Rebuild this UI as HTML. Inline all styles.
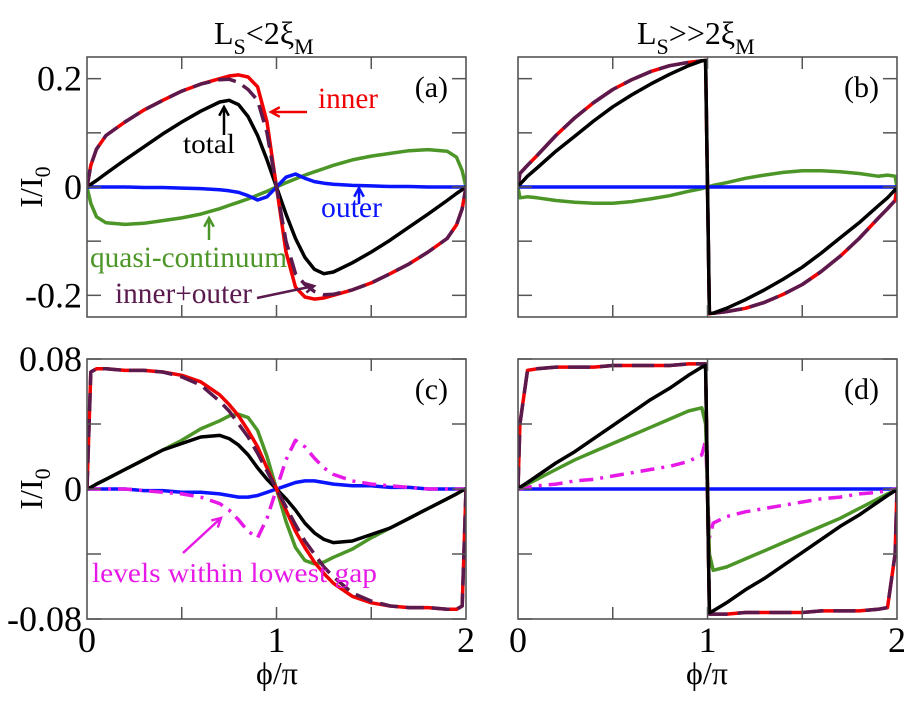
<!DOCTYPE html>
<html><head><meta charset="utf-8"><style>
html,body{margin:0;padding:0;background:#fff;}
svg, svg text, svg tspan{font-family:"Liberation Serif","Times New Roman",Times,serif !important;}
</style></head><body>
<svg id="fig" width="908" height="696" viewBox="0 0 908 696" xmlns="http://www.w3.org/2000/svg">
<g id="root"></g>
<text x="214" y="44" font-size="32">L<tspan font-size="22" dy="10">S</tspan><tspan dy="-10">&lt;2ξ</tspan><tspan font-size="22" dy="10">M</tspan></text>
<text x="637" y="44" font-size="32">L<tspan font-size="22" dy="10">S</tspan><tspan dy="-10">&gt;&gt;2ξ</tspan><tspan font-size="22" dy="10">M</tspan></text>
<text transform="translate(42,187) rotate(-90)" text-anchor="middle" font-size="32">I/I<tspan font-size="22" dy="8">0</tspan></text>
<text transform="translate(42,489) rotate(-90)" text-anchor="middle" font-size="32">I/I<tspan font-size="22" dy="8">0</tspan></text>
<text x="277" y="684" text-anchor="middle" font-size="32">ϕ/π</text>
<text x="707" y="684" text-anchor="middle" font-size="32">ϕ/π</text>
</svg>
<script>
const aX=[0,0.02,0.05,0.1,0.2,0.3,0.4,0.5,0.6,0.7,0.75,0.8,0.85,0.9,0.95,1,1.05,1.1,1.15,1.2,1.25,1.3,1.4,1.5,1.6,1.7,1.8,1.9,1.95,1.98,2];
const aInner=[0,0.04,0.07,0.095,0.12,0.142,0.16,0.177,0.19,0.2,0.205,0.207,0.203,0.185,0.12,0,-0.12,-0.185,-0.203,-0.207,-0.205,-0.2,-0.19,-0.177,-0.16,-0.142,-0.12,-0.095,-0.07,-0.04,0];
const aInnerOuter=[0,0.04,0.07,0.095,0.12,0.142,0.16,0.177,0.19,0.198,0.199,0.193,0.18,0.16,0.1,0,-0.1,-0.16,-0.18,-0.193,-0.199,-0.198,-0.19,-0.177,-0.16,-0.142,-0.12,-0.095,-0.07,-0.04,0];
const aTotal=[0,0.005,0.012,0.025,0.05,0.074,0.098,0.12,0.14,0.157,0.16,0.152,0.13,0.095,0.05,0,-0.05,-0.095,-0.13,-0.152,-0.16,-0.157,-0.14,-0.12,-0.098,-0.074,-0.05,-0.025,-0.012,-0.005,0];
const aQuasi=[0,-0.03,-0.055,-0.066,-0.069,-0.067,-0.062,-0.057,-0.05,-0.04,-0.034,-0.028,-0.022,-0.015,-0.008,0,0.008,0.015,0.022,0.028,0.034,0.04,0.05,0.057,0.062,0.067,0.069,0.066,0.055,0.03,0];
const aOuter=[0,0,0,0,0,-0.001,-0.001,-0.002,-0.003,-0.005,-0.007,-0.01,-0.016,-0.024,-0.018,0,0.018,0.024,0.016,0.01,0.007,0.005,0.003,0.002,0.001,0.001,0,0,0,0,0];

const bX=[0,0.01,0.05,0.1,0.2,0.3,0.4,0.5,0.6,0.7,0.8,0.9,0.97,0.99,1.01,1.03,1.1,1.2,1.3,1.4,1.5,1.6,1.7,1.8,1.9,1.95,1.99,2];
const bInner=[0,0.025,0.04,0.058,0.095,0.128,0.156,0.18,0.198,0.213,0.224,0.23,0.233,0.234,-0.234,-0.233,-0.23,-0.224,-0.213,-0.198,-0.18,-0.156,-0.128,-0.095,-0.058,-0.04,-0.025,0];
const bTotal=[0,0.005,0.02,0.035,0.066,0.094,0.122,0.148,0.17,0.19,0.208,0.224,0.233,0.233,-0.233,-0.233,-0.224,-0.208,-0.19,-0.17,-0.148,-0.122,-0.094,-0.066,-0.035,-0.02,-0.005,0];
const bQuasi=[0,-0.02,-0.018,-0.02,-0.025,-0.028,-0.03,-0.03,-0.027,-0.022,-0.016,-0.008,-0.003,-0.001,0.001,0.003,0.008,0.016,0.022,0.027,0.03,0.03,0.028,0.025,0.02,0.022,0.02,0];
const bOuter=[0,0,0,0,0,0,0,0,0,0,0,0,0,0,0,0,0,0,0,0,0,0,0,0,0,0,0,0];

const cX=aX;
const cInner=[0,0.072,0.074,0.074,0.073,0.073,0.072,0.07,0.066,0.058,0.052,0.045,0.036,0.026,0.013,0,-0.013,-0.026,-0.036,-0.045,-0.052,-0.058,-0.066,-0.07,-0.072,-0.073,-0.073,-0.074,-0.074,-0.072,0];
const cInnerOuter=[0,0.072,0.074,0.074,0.073,0.073,0.072,0.069,0.064,0.054,0.048,0.04,0.032,0.022,0.011,0,-0.011,-0.022,-0.032,-0.04,-0.048,-0.054,-0.064,-0.069,-0.072,-0.073,-0.073,-0.074,-0.074,-0.072,0];
const cTotal=[0,0.001,0.003,0.006,0.012,0.018,0.024,0.028,0.032,0.033,0.031,0.027,0.021,0.013,0.006,0,-0.006,-0.013,-0.021,-0.027,-0.031,-0.033,-0.032,-0.028,-0.024,-0.018,-0.012,-0.006,-0.003,-0.001,0];
const cQuasi=[0,0.001,0.003,0.006,0.012,0.018,0.024,0.03,0.037,0.042,0.045,0.046,0.044,0.036,0.02,0,-0.02,-0.036,-0.044,-0.046,-0.045,-0.042,-0.037,-0.03,-0.024,-0.018,-0.012,-0.006,-0.003,-0.001,0];
const cOuter=[0,0,0,0,0,-0.001,-0.001,-0.002,-0.002,-0.003,-0.004,-0.005,-0.005,-0.004,-0.002,0,0.002,0.004,0.005,0.005,0.004,0.003,0.002,0.002,0.001,0.001,0,0,0,0,0];
const cGap=[0,0,0,0,0,-0.001,-0.002,-0.003,-0.005,-0.009,-0.013,-0.019,-0.026,-0.03,-0.018,0,0.018,0.03,0.026,0.019,0.013,0.009,0.005,0.003,0.002,0.001,0,0,0,0,0];

const dX=bX;
const dInner=[0,0.04,0.073,0.074,0.075,0.075,0.075,0.076,0.076,0.076,0.076,0.077,0.077,0.077,-0.077,-0.077,-0.077,-0.076,-0.076,-0.076,-0.076,-0.075,-0.075,-0.075,-0.074,-0.073,-0.04,0];
const dTotal=[0,0.001,0.004,0.008,0.016,0.023,0.031,0.039,0.047,0.055,0.062,0.07,0.075,0.076,-0.076,-0.075,-0.07,-0.062,-0.055,-0.047,-0.039,-0.031,-0.023,-0.016,-0.008,-0.004,-0.001,0];
const dQuasi=[0,0.001,0.003,0.006,0.012,0.018,0.023,0.028,0.033,0.038,0.043,0.048,0.05,0.04,-0.04,-0.05,-0.048,-0.043,-0.038,-0.033,-0.028,-0.023,-0.018,-0.012,-0.006,-0.003,-0.001,0];
const dGap=[0,0,0.001,0.002,0.003,0.005,0.006,0.008,0.01,0.012,0.014,0.017,0.021,0.03,-0.03,-0.021,-0.017,-0.014,-0.012,-0.01,-0.008,-0.006,-0.005,-0.003,-0.002,-0.001,0,0];
const dOuter=bOuter;

const xTicks=[0,0.5,1,1.5,2];
const xTickLabels=["0","1","2"];
const abTicks=[-0.2,-0.1,0,0.1,0.2];
const abLabels=["0.2","0","-0.2"];
const cdTicks=[-0.08,-0.04,0,0.04,0.08];
const cdLabels=["0.08","0","-0.08"];

const NS="http://www.w3.org/2000/svg";
const root=document.getElementById('root');
function mk(tag,attrs,parent){const e=document.createElementNS(NS,tag);for(const k in attrs)e.setAttribute(k,attrs[k]);(parent||root).appendChild(e);return e;}
const COL={red:"#f00000",purple:"#5a1a4e",black:"#000",green:"#4c9628",blue:"#0a14ff",mag:"#e619e6"};

function panel(name,x0,x1,y0,y1,ymin,ymax,ticks,series,letter){
  const g=mk('g',{});
  
  
  const sx=v=>x0+(v/2)*(x1-x0);
  const sy=v=>y1-(v-ymin)/(ymax-ymin)*(y1-y0);
  const cp=mk('clipPath',{id:'clip'+name},g);
  mk('rect',{x:x0,y:y0,width:x1-x0,height:y1-y0},cp);
  const sg=mk('g',{'clip-path':'url(#clip'+name+')'},g);
  series.forEach(s=>{
    const d=s.xs.map((x,i)=>(i?'L':'M')+sx(x).toFixed(1)+','+sy(s.ys[i]).toFixed(1)).join(' ');
    const p=mk('path',{d:d,fill:'none',stroke:s.c,'stroke-width':s.w||3.5,'stroke-linejoin':'round','stroke-linecap':'butt'},sg);
    if(s.dash)p.setAttribute('stroke-dasharray',s.dash);
    
    
  });
  const fr=mk('rect',{x:x0,y:y0,width:x1-x0,height:y1-y0,fill:'none',stroke:'#555','stroke-width':1.6},g);
  
  
  xTicks.forEach(t=>{
    const X=sx(t);
    if(t>0&&t<2){
      mk('line',{x1:X,x2:X,y1:y0,y2:y0+12,stroke:'#555','stroke-width':1.5},g);
      mk('line',{x1:X,x2:X,y1:y1,y2:y1-12,stroke:'#555','stroke-width':1.5},g);
    }
  });
  ticks.forEach(t=>{
    const Y=sy(t);
    mk('line',{x1:x0,x2:x0+14,y1:Y,y2:Y,stroke:'#555','stroke-width':1.5},g);
    mk('line',{x1:x1,x2:x1-14,y1:Y,y2:Y,stroke:'#555','stroke-width':1.5},g);
  });
  const lt=mk('text',{x:x1-18,y:y0+40,'text-anchor':'end','font-size':30},g);
  lt.textContent=letter;
  
  
  return {sx,sy};
}
function S(n,xs,ys,c,dash,w){return {n,xs,ys,c,dash,w};}

const pa=panel('a',87,466,57,317,-0.24,0.24,abTicks,[
  S('quasi',aX,aQuasi,COL.green),S('outer',aX,aOuter,COL.blue),S('total',aX,aTotal,COL.black),
  S('inner',aX,aInner,COL.red),S('inner-outer',aX,aInnerOuter,COL.purple,'18 8')],'(a)');
const pb=panel('b',518,897,57,317,-0.24,0.24,abTicks,[
  S('quasi',bX,bQuasi,COL.green),S('outer',bX,bOuter,COL.blue),
  S('inner',bX,bInner,COL.red),S('inner-outer',bX,bInner,COL.purple,'30 8'),S('total',bX,bTotal,COL.black)],'(b)');
const pc=panel('c',87,466,359,619,-0.08,0.08,cdTicks,[
  S('outer',cX,cOuter,COL.blue),S('gap',cX,cGap,COL.mag,'14 7 3 7'),S('quasi',cX,cQuasi,COL.green),S('total',cX,cTotal,COL.black),
  S('inner',cX,cInner,COL.red),S('inner-outer',cX,cInnerOuter,COL.purple,'18 8')],'(c)');
const pd=panel('d',518,897,359,619,-0.08,0.08,cdTicks,[
  S('outer',dX,dOuter,COL.blue),S('gap',dX,dGap,COL.mag,'14 7 3 7'),S('quasi',dX,dQuasi,COL.green),
  S('inner',dX,dInner,COL.red),S('inner-outer',dX,dInner,COL.purple,'22 10'),S('total',dX,dTotal,COL.black)],'(d)');

function tl(txt,x,y,anchor,size,name){
  const t=mk('text',{x:x,y:y,'text-anchor':anchor,'font-size':size});
  t.textContent=txt;
  
  
}
[0.2,0,-0.2].forEach((v,i)=>tl(abLabels[i],82,pa.sy(v)+12,'end',36,'y-tick-label-top'));
[0.08,0,-0.08].forEach((v,i)=>tl(cdLabels[i],82,pc.sy(v)+12,'end',36,'y-tick-label-bottom'));
[0,1,2].forEach((v,i)=>{tl(xTickLabels[i],pc.sx(v),652,'middle',36,'x-tick-label-left');tl(xTickLabels[i],pd.sx(v),652,'middle',36,'x-tick-label-right');});

function ann(txt,x,y,c,size,len,name){
  const t=mk('text',{x:x,y:y,fill:c,'font-size':size,textLength:len,lengthAdjust:'spacingAndGlyphs'});
  t.textContent=txt;
  
  
}
function arrow(x1,y1,x2,y2,c,name){
  const g=mk('g',{});
  
  
  mk('line',{x1,y1,x2,y2,stroke:c,'stroke-width':2.5},g);
  const a=Math.atan2(y2-y1,x2-x1),L=10,W=0.5;
  const p=[[x2,y2],[x2-L*Math.cos(a-W),y2-L*Math.sin(a-W)],[x2-L*Math.cos(a+W),y2-L*Math.sin(a+W)]];
  mk('polyline',{points:p[1].join(',')+' '+p[0].join(',')+' '+p[2].join(','),fill:'none',stroke:c,'stroke-width':2.5},g);
}
ann('inner',318,108,COL.red,30,60,'inner-label');
arrow(307,112,271,112,COL.red,'inner-arrow');
ann('total',183,153,'#000',27,52,'total-label');
arrow(224,135,224,107,'#000','total-arrow');
ann('outer',321,217,COL.blue,30,61,'outer-label');
arrow(359,204,359,188,COL.blue,'outer-arrow');
ann('quasi-continuum',90,267,COL.green,30,197,'quasi-continuum-label');
arrow(209,240,209,218,COL.green,'quasi-arrow');
ann('inner+outer',115,303,COL.purple,30,137,'inner-outer-label');
arrow(257,298,314,286,COL.purple,'inner-outer-arrow');
ann('levels within lowest gap',92,582,COL.mag,27,285,'levels-gap-label');
arrow(183,553,221,518,COL.mag,'levels-arrow');
</script>
</body></html>
